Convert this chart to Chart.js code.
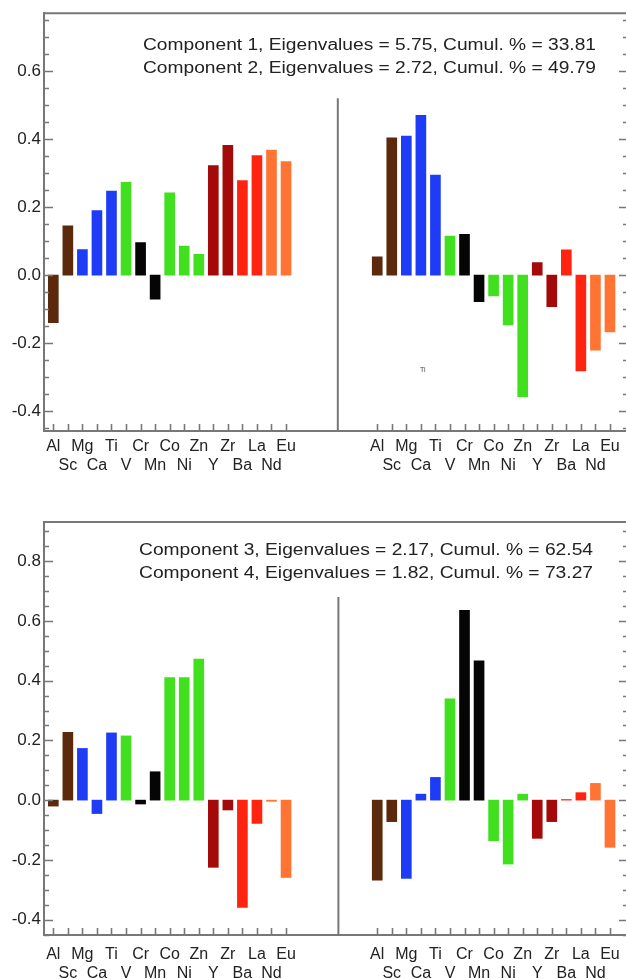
<!DOCTYPE html>
<html>
<head>
<meta charset="utf-8">
<script src="https://cdn.jsdelivr.net/npm/chart.js@4.4.0/dist/chart.umd.min.js"></script>
<style>
  html, body { margin: 0; padding: 0; background: #fff; overflow: hidden; }
  .panel { position: absolute; left: 0; width: 630px; }
  #top { top: 0; height: 480px; }
  #bottom { top: 480px; height: 499px; }
</style>
</head>
<body>
<div class="panel" id="top"><canvas id="pcaTop"></canvas></div>
<div class="panel" id="bottom"><canvas id="pcaBottom"></canvas></div>
<script>
// Element loadings on the first four principal components
const elements = ["Al", "Sc", "Mg", "Ca", "Ti", "V", "Cr", "Mn", "Co", "Ni", "Zn", "Y", "Zr", "Ba", "La", "Nd", "Eu"];
const comp1 = [-0.14, 0.145, 0.075, 0.19, 0.247, 0.273, 0.096, -0.071, 0.242, 0.085, 0.061, 0.322, 0.382, 0.278, 0.352, 0.368, 0.334];
const comp2 = [0.054, 0.404, 0.409, 0.47, 0.294, 0.115, 0.12, -0.078, -0.061, -0.147, -0.358, 0.037, -0.093, 0.074, -0.282, -0.221, -0.167];
const comp3 = [-0.02, 0.227, 0.173, -0.045, 0.225, 0.215, -0.013, 0.095, 0.41, 0.41, 0.472, -0.225, -0.033, -0.359, -0.078, -0.004, -0.259];
const comp4 = [-0.268, -0.072, -0.262, 0.02, 0.076, 0.339, 0.635, 0.466, -0.136, -0.214, 0.02, -0.128, -0.072, 0.002, 0.025, 0.056, -0.158];
const eigenvalues = [5.75, 2.72, 2.17, 1.82];
const cumulPercent = [33.81, 49.79, 62.54, 73.27];
const yTicksTop = [-0.4, -0.2, 0.0, 0.2, 0.4, 0.6];
const yTicksBottom = [-0.4, -0.2, 0.0, 0.2, 0.4, 0.6, 0.8];

// element families
const brown = "#5b290c", blue = "#1e3cf5", green = "#40e01e", black = "#050505";
const darkRed = "#a50a0a", red = "#ff2410", orange = "#ff7433";
const barColors = [brown, brown, blue, blue, blue, green, black, black, green, green, green,
                   darkRed, darkRed, red, red, orange, orange];

const axisColor = "#777";
const textColor = "#222";
const fontFamily = '"Liberation Sans", Arial, Helvetica, sans-serif';

// second block of bars sits to the right of the divider
const rightShift = 22.27;
const xMin = -0.64, xMax = 39.51;
const positions = elements.map((e, i) => i).concat(elements.map((e, i) => i + rightShift));

function componentLine(k) {
  return "Component " + (k + 1) + ", Eigenvalues = " + eigenvalues[k].toFixed(2) +
         ", Cumul. % = " + cumulPercent[k].toFixed(2);
}

function decorPlugin(cfg) {
  return {
    id: "decor",
    afterDraw(chart) {
      const { ctx, chartArea: a, scales: { x, y } } = chart;
      ctx.save();
      ctx.strokeStyle = axisColor;
      ctx.lineWidth = 2;
      // top and right edges of the box
      ctx.beginPath();
      ctx.moveTo(a.left, a.top);
      ctx.lineTo(a.right, a.top);
      ctx.lineTo(a.right, a.bottom);
      ctx.stroke();

      // inward ticks on both vertical axes, every 0.05
      ctx.lineWidth = 1.6;
      ctx.beginPath();
      for (let k = Math.ceil(y.min / 0.05); k * 0.05 <= y.max; k++) {
        const py = Math.round(y.getPixelForValue(k * 0.05)) + 0.5;
        const len = k % 4 === 0 ? 9 : 5;
        ctx.moveTo(a.left, py); ctx.lineTo(a.left + len, py);
        ctx.moveTo(a.right, py); ctx.lineTo(a.right - len, py);
      }
      // small ticks under every bar
      positions.forEach(v => {
        const px = Math.round(x.getPixelForValue(v)) + 0.5;
        ctx.moveTo(px, a.bottom);
        ctx.lineTo(px, a.bottom - 7);
      });
      ctx.stroke();

      // divider between the two components
      ctx.lineWidth = 2;
      ctx.beginPath();
      const sx = x.getPixelForValue(cfg.dividerX);
      ctx.moveTo(sx, y.getPixelForValue(cfg.dividerTop));
      ctx.lineTo(sx, a.bottom);
      ctx.stroke();

      // component captions
      ctx.fillStyle = textColor;
      ctx.font = "16px " + fontFamily;
      ctx.textAlign = "left";
      ctx.textBaseline = "middle";
      const scaleX = cfg.textWidth / ctx.measureText(cfg.lines[0]).width;
      cfg.lines.forEach((t, i) => {
        ctx.save();
        ctx.translate(a.left + cfg.textDx, a.top + cfg.textDy + i * 23);
        ctx.scale(scaleX, 1);
        ctx.fillText(t, 0, 0);
        ctx.restore();
      });

      if (cfg.note) {
        ctx.font = "7px " + fontFamily;
        ctx.fillStyle = "#444";
        ctx.textAlign = "center";
        ctx.fillText(cfg.note.text, x.getPixelForValue(cfg.note.x), y.getPixelForValue(cfg.note.y));
      }
      ctx.restore();
    }
  };
}

function makePanel(canvasId, leftVals, rightVals, cfg) {
  const points = leftVals.map((v, i) => ({ x: positions[i], y: v }))
    .concat(rightVals.map((v, i) => ({ x: positions[i + elements.length], y: v })));
  new Chart(document.getElementById(canvasId), {
    type: "bar",
    data: {
      datasets: [{
        data: points,
        backgroundColor: barColors.concat(barColors),
        borderWidth: 0,
        barThickness: 10
      }]
    },
    options: {
      responsive: true,
      maintainAspectRatio: false,
      animation: false,
      layout: { padding: { top: cfg.padTop, right: 2, left: 0, bottom: 0 } },
      plugins: { legend: { display: false }, tooltip: { enabled: false } },
      scales: {
        x: {
          type: "linear",
          min: xMin,
          max: xMax,
          offset: false,
          grid: { display: false, drawTicks: false },
          border: { display: true, color: axisColor, width: 2 },
          afterBuildTicks: s => { s.ticks = positions.map(v => ({ value: v })); },
          afterFit: s => { s.height = cfg.xAxisHeight; },
          ticks: {
            autoSkip: false,
            maxRotation: 0,
            padding: cfg.labelPad,
            color: textColor,
            font: { family: fontFamily, size: 16, lineHeight: 1.2 },
            callback: (v, i) => {
              const k = i % elements.length;
              return k % 2 === 0 ? [elements[k], ""] : ["", elements[k]];
            }
          }
        },
        y: {
          min: cfg.yMin,
          max: cfg.yMax,
          grid: { display: false, drawTicks: false },
          border: { display: true, color: axisColor, width: 2 },
          afterBuildTicks: s => { s.ticks = cfg.yTicks.map(v => ({ value: v })); },
          afterFit: s => { s.width = 44; },
          ticks: {
            padding: 3,
            color: textColor,
            font: { family: fontFamily, size: 17 },
            callback: v => v.toFixed(1)
          }
        }
      }
    },
    plugins: [decorPlugin(cfg)]
  });
}

makePanel("pcaTop", comp1, comp2, {
  padTop: 13, xAxisHeight: 49, labelPad: 6,
  yMin: -0.4588, yMax: 0.7706, yTicks: yTicksTop,
  dividerX: 19.56, dividerTop: 0.52,
  lines: [componentLine(0), componentLine(1)],
  textDx: 99, textDy: 32, textWidth: 453,
  note: { text: "Ti", x: 25.4, y: -0.28 }
});

makePanel("pcaBottom", comp3, comp4, {
  padTop: 42, xAxisHeight: 44, labelPad: 10,
  yMin: -0.4515, yMax: 0.931, yTicks: yTicksBottom,
  dividerX: 19.6, dividerTop: 0.68,
  lines: [componentLine(2), componentLine(3)],
  textDx: 95, textDy: 29, textWidth: 454
});
</script>
</body>
</html>
